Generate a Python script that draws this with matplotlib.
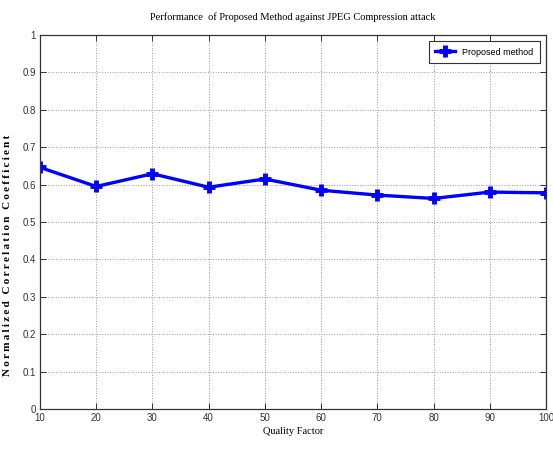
import matplotlib
matplotlib.use('Agg')
import matplotlib.pyplot as plt
import numpy as np

quality = [10, 20, 30, 40, 50, 60, 70, 80, 90, 100]
ncc = [0.646, 0.595, 0.629, 0.593, 0.615, 0.585, 0.572, 0.563, 0.580, 0.578]
yticks = [0, 0.1, 0.2, 0.3, 0.4, 0.5, 0.6, 0.7, 0.8, 0.9, 1]
ylabels = ['0', '0.1', '0.2', '0.3', '0.4', '0.5', '0.6', '0.7', '0.8', '0.9', '1']

narrow = ['Liberation Sans', 'DejaVu Sans']
serif = ['Liberation Serif', 'DejaVu Serif']

fig = plt.figure(figsize=(5.53, 4.5), dpi=100)
ax = fig.add_axes([0.0723, 0.0911, 0.915, 0.8311])

ax.plot(quality, ncc, color='#0000ff', lw=2.4, marker='+', ms=8, mew=3.5,
        label='Proposed method')

ax.set_xlim(10, 100)
ax.set_ylim(0, 1)
ax.set_xticks(quality)
ax.set_yticks(yticks)
ax.set_yticklabels(ylabels)
for lab in ax.get_xticklabels() + ax.get_yticklabels():
    lab.set_family(narrow)
    lab.set_fontsize(7)
    lab.set_color('#333333')
ax.tick_params(direction='in', length=4, width=0.7, right=True, top=True, pad=3,
               colors='#333333')
ax.grid(True, linestyle=':', color='#999999', lw=0.7)
for s in ax.spines.values():
    s.set_linewidth(0.9)
    s.set_color('#333333')

ax.set_title('Performance  of Proposed Method against JPEG Compression attack',
             family=serif, fontsize=7.5, pad=11)
ax.set_xlabel('Quality Factor', family=serif, fontsize=7.5, labelpad=3)
# spaced-out bold label, sitting a bit below the axes centre
ylab = '\u2009'.join('Normalized') + '\u2009\u2009\u2009' + \
       '\u2009'.join('Correlation') + '\u2009\u2009\u2009' + '\u2009'.join('Coefficient')
ax.set_ylabel(ylab, family=serif, fontsize=8, fontweight='bold')
ax.yaxis.set_label_coords(-0.056, 0.41)

leg = ax.legend(loc='upper right', prop={'family': narrow, 'size': 6.5},
                fancybox=False, edgecolor='#333333', framealpha=1,
                handlelength=2.2, borderaxespad=0.7, borderpad=0.7)
leg.get_frame().set_linewidth(0.8)

fig.savefig('out.png', dpi=100)
